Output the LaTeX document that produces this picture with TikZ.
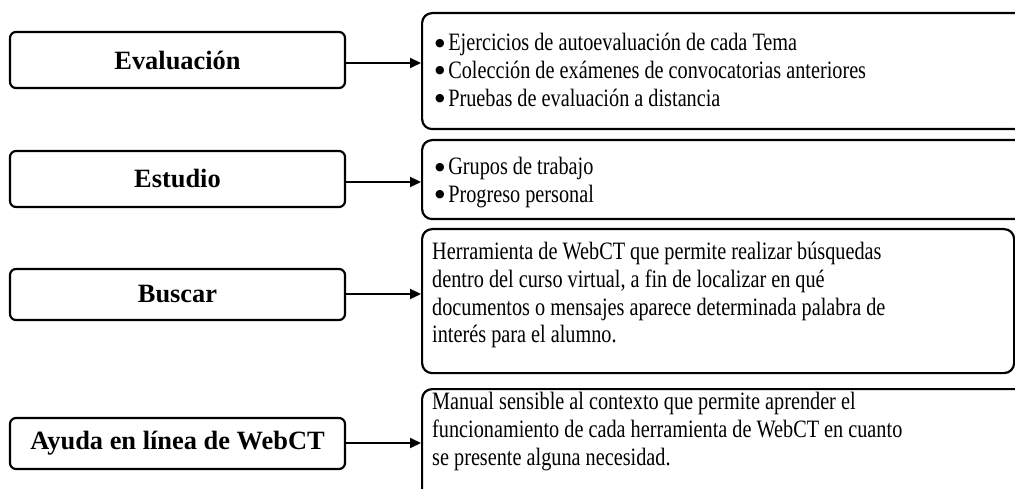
\documentclass[tikz,border=0pt]{standalone}
\usepackage{fontspec}
\setmainfont{Liberation Serif}
\newfontfamily\condserif[FakeStretch=0.81]{Liberation Serif}
\newfontfamily\dotfont{DejaVu Sans}
\newcommand{\bigdot}{\raisebox{4.5pt}{\dotfont\fontsize{11}{11}\selectfont ●}\hspace{3.5pt}}
\usetikzlibrary{arrows.meta}
\begin{document}
\begin{tikzpicture}[x=1pt,y=-1pt,
  lbox/.style={draw, line width=2.2pt, rounded corners=6pt, minimum width=335pt, minimum height=#1, font=\fontsize{26.4}{30}\selectfont\bfseries, inner sep=0pt},
  rbox/.style={draw, line width=2.2pt, rounded corners=10pt, anchor=north west, inner sep=0pt},
  btext/.style={anchor=north west, inner sep=0pt, align=left, font=\condserif\fontsize{25}{27.8}\selectfont},
  conn/.style={line width=2pt, -{Triangle[length=11pt,width=10pt]}}]
\useasboundingbox (0,0) rectangle (1015,489);
\clip (0,0) rectangle (1015,489);
\fill[white] (0,0) rectangle (1015,489);
% left boxes
\node[lbox=56pt] (l1) at (177.5,60) {Evaluación};
\node[lbox=56pt] (l2) at (177.5,179) {Estudio};
\node[lbox=51pt] (l3) at (177.5,294.5) {Buscar};
\node[lbox=51pt] (l4) at (177.5,443.5) {Ayuda en línea de WebCT};
% right boxes
\node[rbox, minimum width=620pt, minimum height=116pt] (r1) at (421,12) {};
\node[rbox, minimum width=620pt, minimum height=79pt] (r2) at (421,139) {};
\node[rbox, minimum width=592pt, minimum height=144pt] (r3) at (421,228) {};
\node[rbox, minimum width=620pt, minimum height=130pt] (r4) at (421,388) {};
% texts
\node[btext] (t1) at (435,33) {\bigdot Ejercicios de autoevaluación de cada Tema\\
\bigdot Colección de exámenes de convocatorias anteriores\\
\bigdot Pruebas de evaluación a distancia};
\node[btext] (t2) at (435,157) {\bigdot Grupos de trabajo\\
\bigdot Progreso personal};
\node[btext] (t3) at (432,242) {Herramienta de WebCT que permite realizar búsquedas\\
dentro del curso virtual, a fin de localizar en qué\\
documentos o mensajes aparece determinada palabra de\\
interés para el alumno.};
\node[btext] (t4) at (432,392) {Manual sensible al contexto que permite aprender el\\
funcionamiento de cada herramienta de WebCT en cuanto\\
se presente alguna necesidad.};
% connectors
\draw[conn] ([yshift=-3pt]l1.east) -- ([yshift=-3pt]l1.east -| r1.west);
\draw[conn] ([yshift=-3pt]l2.east) -- ([yshift=-3pt]l2.east -| r2.west);
\draw[conn] ([yshift=0.5pt]l3.east) -- ([yshift=0.5pt]l3.east -| r3.west);
\draw[conn] ([yshift=0.5pt]l4.east) -- ([yshift=0.5pt]l4.east -| r4.west);
\end{tikzpicture}
\end{document}
